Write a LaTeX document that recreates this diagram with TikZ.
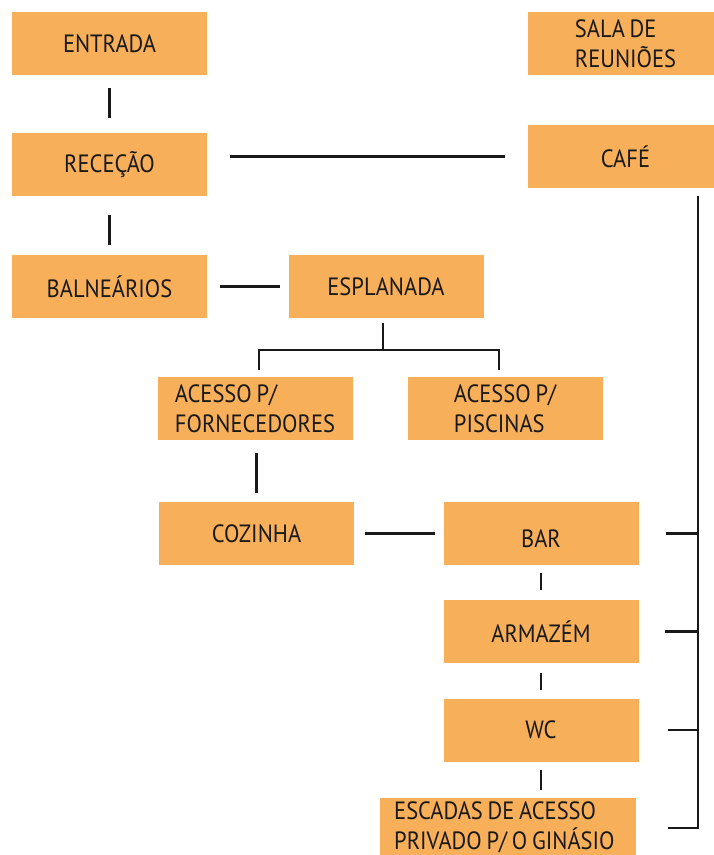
\documentclass[tikz,border=0pt]{standalone}
\usepackage{fontspec}
\setmainfont[FakeStretch=0.9,WordSpace=0.8]{PT Sans}
\definecolor{boxor}{RGB}{247,175,90}
\definecolor{ink}{RGB}{25,25,25}
\begin{document}
\begin{tikzpicture}[x=1pt,y=-1pt,
  room/.style={fill=boxor, draw=none, minimum width=195pt, minimum height=63pt, inner sep=0pt, text=ink, font=\fontsize{25}{30}\selectfont},
  roomL/.style={room, align=left},
  link/.style={line width=2.2pt, draw=ink}]
\useasboundingbox (0,0) rectangle (713,855);
% nodes
\node[room] (entrada) at (109.5,43.5) {ENTRADA};
\node[roomL] (sala) at (625.5,43.5) {SALA DE\\REUNIÕES};
\node[room] (recep) at (109.5,164.5) {RECEÇÃO};
\node[room] (cafe) at (625.5,156.5) {CAFÉ};
\node[room] (baln) at (109.5,286.5) {BALNEÁRIOS};
\node[room] (espl) at (386,286.5) {ESPLANADA};
\node[roomL] (forn) at (255,408.5) {ACESSO P/\\FORNECEDORES};
\node[roomL] (pisc) at (505,408.5) {ACESSO P/\\PISCINAS};
\node[room] (coz) at (256.5,533.5) {COZINHA};
\node[room] (bar) at (541,533.5) {\raisebox{-5pt}[\height][0pt]{BAR}};
\node[room] (arm) at (541,631.5) {ARMAZÉM};
\node[room] (wc) at (541,730) {WC};
\node[room, minimum width=256pt] (esc) at (508,829.5) {};
\node[align=left, inner sep=0pt, text=ink, font=\fontsize{25}{30}\selectfont, anchor=north west] (esctext) at (394,801) {ESCADAS DE ACESSO\\PRIVADO P/ O GINÁSIO};
% helper coordinates
\coordinate (j) at (383,350);
\coordinate (jl) at (259,350);
\coordinate (jr) at (499,350);
\coordinate (rt) at (698,196);
\coordinate (rb) at (698,828);
% connectors
\draw[link, shorten <=13pt, shorten >=15pt] (entrada.south) -- (recep.north);
\draw[link, shorten <=19pt, shorten >=10pt] (recep.south) -- (baln.north);
\draw[link, shorten <=23pt, shorten >=23pt] (recep.east |- cafe.west) -- (cafe.west);
\draw[link, shorten <=13pt, shorten >=8pt] (baln.east) -- (espl.west);
\draw[link, shorten <=5pt] (espl.south -| j) -- (j);
\draw[link, shorten <=7pt, shorten >=7pt] (forn.north -| jl) |- (j) -| (pisc.north -| jr);
\draw[link, shorten <=13pt, shorten >=9pt] (forn.south -| coz.north) -- (coz.north);
\draw[link, shorten <=11pt, shorten >=8pt] (coz.east) -- (bar.west);
\draw[link, shorten <=8pt, shorten >=10pt] (bar.south) -- (arm.north);
\draw[link, shorten <=10pt, shorten >=8pt] (arm.south) -- (wc.north);
\draw[link, shorten <=8pt, shorten >=8pt] (wc.south) -- (wc.south |- esc.north);
\draw[link, shorten >=32pt] (rt) -- (rb) -- (esc.east |- rb);
\draw[link, shorten <=27pt] (bar.east) -- (bar.east -| rt);
\draw[link, shorten <=26pt] (arm.east) -- (arm.east -| rt);
\draw[link, shorten <=29pt] (wc.east) -- (wc.east -| rt);
\end{tikzpicture}
\end{document}
